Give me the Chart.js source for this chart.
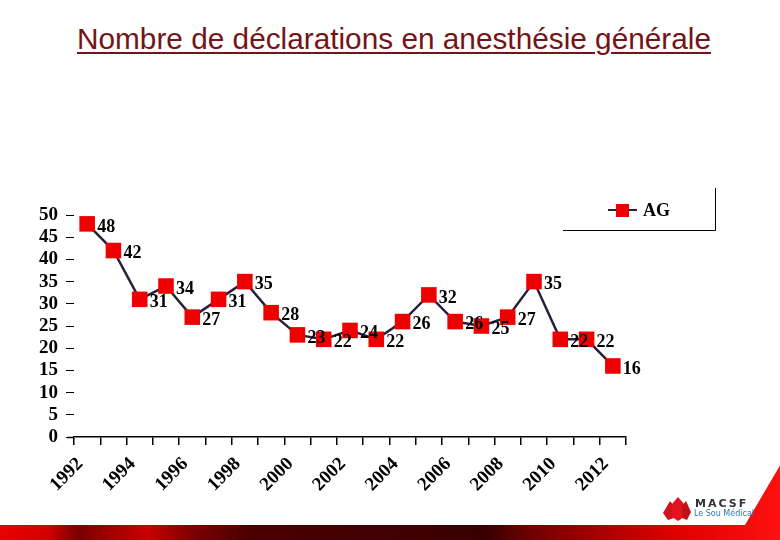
<!DOCTYPE html>
<html>
<head>
<meta charset="utf-8">
<script src="https://cdn.jsdelivr.net/npm/chart.js@4.4.1/dist/chart.umd.min.js"></script>
<style>
  html, body { margin:0; padding:0; background:#fff; }
  #wrap { position:relative; width:780px; height:540px; overflow:hidden; background:#fff; }
  #title { position:absolute; left:0; top:23px; white-space:nowrap; font-family:"Liberation Sans", Arial, sans-serif;
           font-size:29px; line-height:32px; color:#751316; text-decoration:underline; text-decoration-thickness:2px;
           text-underline-offset:3px; transform-origin:0 0; }
  #c { position:absolute; left:0; top:0; }
  #band { position:absolute; left:0; top:0; width:780px; height:540px;
          background:linear-gradient(90deg,#e80000 0%,#d40000 6%,#7a0000 10%,#a00000 14%,#c80000 19%,#7a0000 25%,#4a0000 32%,#420000 50%,#360000 62%,#700000 68%,#b00000 78%,#e00000 87%,#ff1010 100%);
          clip-path: polygon(0 525px, 745px 525px, 782px 462px, 780px 540px, 0 540px); }
  #logo { position:absolute; left:663px; top:496px; width:90px; height:26px; }
  #macsf { position:absolute; left:695px; top:497px; font-family:"DejaVu Sans", sans-serif; font-weight:bold; font-size:11px; letter-spacing:2px; color:#333; }
  #sou { position:absolute; left:694px; top:509px; font-family:"DejaVu Sans", sans-serif; font-size:8px; color:#2a7ab0; }
</style>
</head>
<body>
<div id="wrap">
  <div id="title">Nombre de déclarations en anesthésie générale</div>
  <canvas id="c" width="780" height="540"></canvas>
  <div id="band"></div>
  <svg id="logo" viewBox="0 0 90 26">
    <polygon points="0,17 7,5 11,10 11,22 5,24" fill="#d0121b"/>
    <polygon points="9,8 15,1 21,8 21,21 15,25 9,21" fill="#e3141c"/>
    <polygon points="19,10 23,5 28,16 24,24 19,22" fill="#c0101a"/>
  </svg>
  <div id="macsf">MACSF</div>
  <div id="sou">Le Sou Médical</div>
</div>
<script>
const years = ["1992","1993","1994","1995","1996","1997","1998","1999","2000","2001","2002","2003","2004","2005","2006","2007","2008","2009","2010","2011","2012"];
const agValues = [48, 42, 31, 34, 27, 31, 35, 28, 23, 22, 24, 22, 26, 32, 26, 25, 27, 35, 22, 22, 16];
const yTicks = [0, 5, 10, 15, 20, 25, 30, 35, 40, 45, 50];
const seriesName = "AG";

// fit title width
(function(){
  const t = document.getElementById('title');
  const w = t.getBoundingClientRect().width;
  const s = 634 / w;
  t.style.transform = 'scaleX(' + s + ')';
  t.style.left = '77px';
})();

const serif = '"Liberation Serif", "Times New Roman", serif';
const lineColor = '#2b1d3c';
const markerColor = '#ee0000';

const labelPlugin = {
  id: 'valueLabels',
  afterDatasetsDraw(chart) {
    const ctx = chart.ctx;
    const meta = chart.getDatasetMeta(0);
    ctx.save();
    ctx.font = 'bold 18px ' + serif;
    ctx.fillStyle = '#000';
    ctx.textAlign = 'left';
    ctx.textBaseline = 'middle';
    meta.data.forEach((pt, i) => {
      ctx.fillText(String(agValues[i]), pt.x + 10, pt.y + 3);
    });
    ctx.restore();
  }
};

const legendPlugin = {
  id: 'customLegend',
  afterDraw(chart) {
    const ctx = chart.ctx;
    const a = chart.chartArea;
    ctx.save();
    // extend x axis line to the left like the original
    ctx.strokeStyle = '#000';
    ctx.lineWidth = 1.5;
    ctx.beginPath();
    ctx.moveTo(67, a.bottom + 0.5); ctx.lineTo(a.left, a.bottom + 0.5);
    ctx.stroke();
    // legend frame (right and bottom edges)
    ctx.lineWidth = 1;
    ctx.beginPath();
    ctx.moveTo(563, 230.5); ctx.lineTo(715.5, 230.5); ctx.lineTo(715.5, 188);
    ctx.stroke();
    // line sample
    ctx.strokeStyle = lineColor;
    ctx.lineWidth = 2;
    ctx.beginPath();
    ctx.moveTo(608, 210); ctx.lineTo(637, 210);
    ctx.stroke();
    ctx.fillStyle = markerColor;
    ctx.fillRect(616, 204, 13, 13);
    ctx.fillStyle = '#000';
    ctx.font = 'bold 18px ' + serif;
    ctx.textAlign = 'left';
    ctx.textBaseline = 'middle';
    ctx.fillText(seriesName, 643, 211);
    ctx.restore();
  }
};

new Chart(document.getElementById('c'), {
  type: 'line',
  data: {
    labels: years,
    datasets: [{
      label: seriesName,
      data: agValues,
      borderColor: lineColor,
      borderWidth: 2.5,
      tension: 0,
      pointStyle: 'rect',
      pointRadius: 11,
      pointHoverRadius: 11,
      pointBackgroundColor: markerColor,
      pointBorderColor: markerColor,
      pointBorderWidth: 0
    }]
  },
  options: {
    responsive: false,
    animation: false,
    events: [],
    layout: { padding: { left: 0, right: 154, top: 215, bottom: 0 } },
    plugins: { legend: { display: false }, tooltip: { enabled: false } },
    scales: {
      x: {
        offset: true,
        grid: { offset: true, drawOnChartArea: false, drawTicks: true, tickLength: 8, color: '#000', lineWidth: 1.5 },
        border: { display: true, color: '#000', width: 1.5 },
        ticks: {
          autoSkip: false, maxRotation: 45, minRotation: 45, padding: 8, labelOffset: -7,
          color: '#000', font: { family: serif, size: 19, weight: 'bold' },
          callback: (v, i) => (i % 2 === 0 ? years[i] : '')
        },
        afterFit: (s) => { s.height = 103; }
      },
      y: {
        min: 0, max: 50,
        afterBuildTicks: (s) => { s.ticks = yTicks.map(v => ({ value: v })); },
        grid: { drawOnChartArea: false, drawTicks: true, tickLength: 8, color: '#000', lineWidth: 1 },
        border: { display: false },
        ticks: { autoSkip: false, padding: 8, color: '#000', font: { family: serif, size: 19, weight: 'bold' } },
        afterFit: (s) => { s.width = 74; }
      }
    }
  },
  plugins: [labelPlugin, legendPlugin]
});
</script>
</body>
</html>
